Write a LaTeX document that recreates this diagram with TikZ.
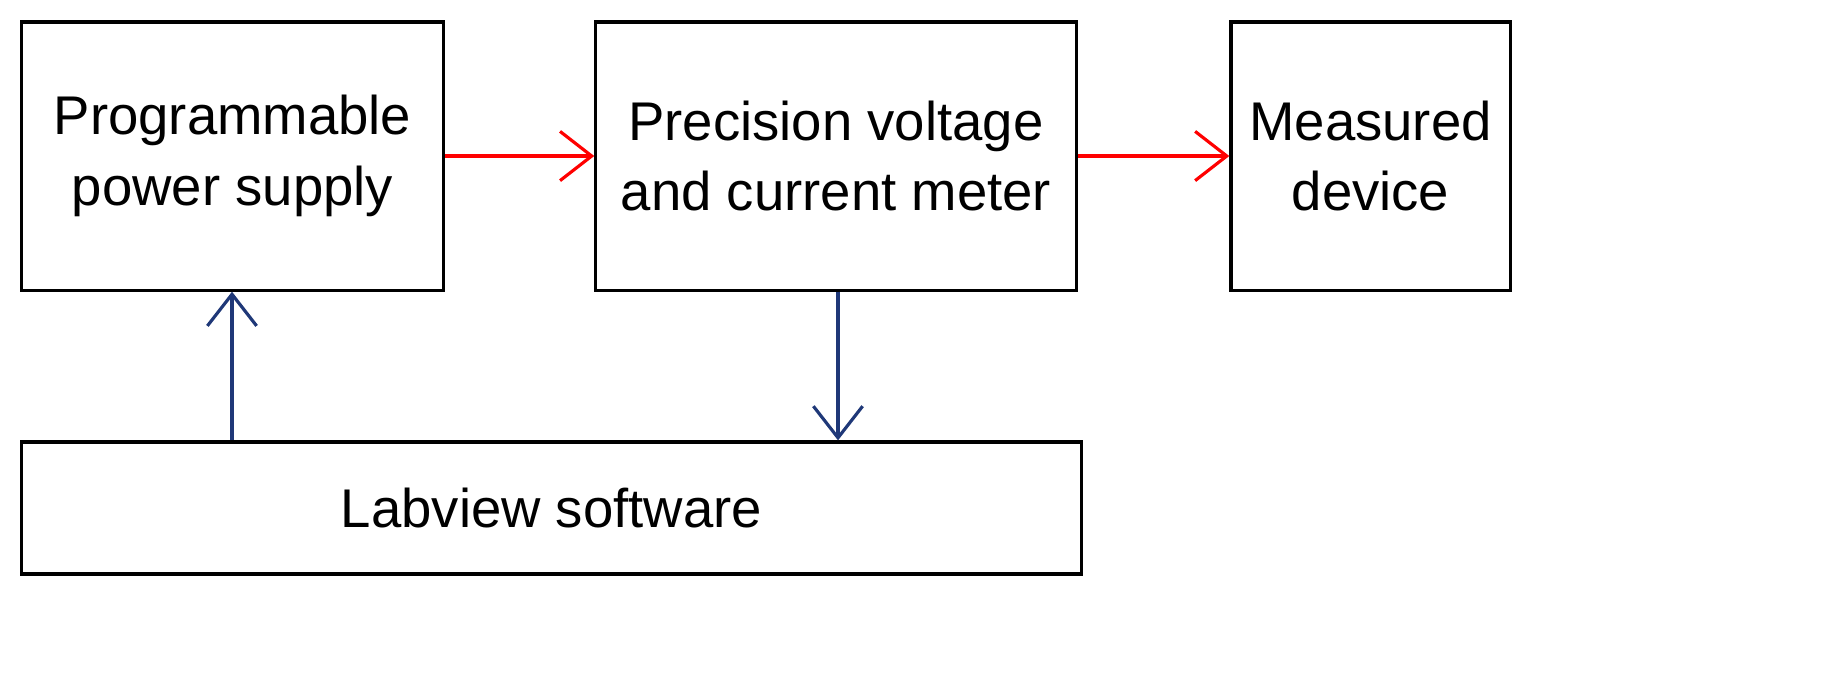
\documentclass[tikz,border=0pt]{standalone}
\usepackage{fontspec}
\setmainfont{Liberation Sans}
\usetikzlibrary{arrows.meta}
\definecolor{navy}{RGB}{31,56,120}
\begin{document}
\begin{tikzpicture}[x=0.01cm,y=-0.01cm,
 box/.style={draw,line width=0.9pt,inner sep=0,align=center,font=\fontsize{15.5}{20}\selectfont},
 arr/.style={line width=0.9pt,-{Straight Barb[length=9pt,width=14pt,line width=0.9pt]}}]
\useasboundingbox (0,0) rectangle (1846,696);
\node[box,minimum width=4.21cm,minimum height=2.68cm] (pps) at (232.5,156) {Programmable\\power supply};
\node[box,minimum width=4.80cm,minimum height=2.68cm] (pvm) at (836,156) {Precision voltage\\and current meter};
\node[box,minimum width=2.79cm,minimum height=2.68cm] (md) at (1370.5,156) {Measured\\device};
\node[box,minimum width=10.59cm,minimum height=1.32cm] (lv) at (551.5,508) {Labview software};
\draw[arr,red] (pps.east) -- (pvm.west);
\draw[arr,red] (pvm.east) -- (md.west);
\draw[arr,navy] (lv.north -| 232,0) -- (pps.south -| 232,0);
\draw[arr,navy] (pvm.south -| 838,0) -- (lv.north -| 838,0);
\end{tikzpicture}
\end{document}
